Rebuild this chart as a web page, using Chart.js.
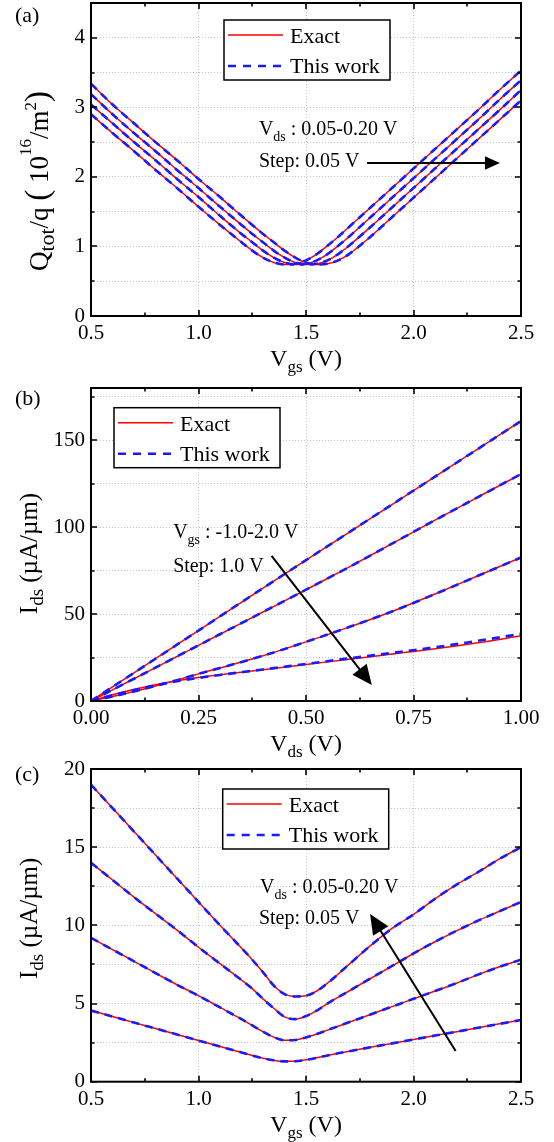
<!DOCTYPE html>
<html>
<head>
<meta charset="utf-8">
<script src="https://cdn.jsdelivr.net/npm/chart.js@4/dist/chart.umd.min.js"></script>
<style>
  html, body { margin: 0; padding: 0; background: #fff; }
  body { width: 554px; height: 1142px; position: relative; overflow: hidden; }
  .panel { position: absolute; left: 0; width: 554px; }
</style>
</head>
<body>
<div class="panel" style="top:0;height:380px"><canvas id="panelA"></canvas></div>
<div class="panel" style="top:380px;height:380px"><canvas id="panelB"></canvas></div>
<div class="panel" style="top:760px;height:382px"><canvas id="panelC"></canvas></div>
<script>
// ---------- (a) total charge vs gate voltage, Vds = 0.05 ... 0.20 V ----------
const vgsQ = [0.5,0.6,0.7,0.8,0.9,1.0,1.1,1.2,1.25,1.3,1.35,1.4,1.45,1.5,1.55,1.6,1.65,1.7,1.8,1.9,2.0,2.1,2.2,2.3,2.4,2.5];
const qVds005 = [2.90,2.63,2.37,2.10,1.84,1.57,1.31,1.06,0.94,0.84,0.77,0.74,0.75,0.80,0.89,1.01,1.14,1.28,1.56,1.84,2.12,2.40,2.68,2.96,3.25,3.53];
const qVds010 = [3.04,2.77,2.50,2.24,1.97,1.71,1.44,1.18,1.06,0.94,0.84,0.77,0.74,0.75,0.80,0.89,1.01,1.14,1.42,1.70,1.98,2.26,2.54,2.82,3.11,3.39];
const qVds015 = [3.19,2.90,2.63,2.37,2.10,1.84,1.57,1.31,1.18,1.06,0.94,0.84,0.77,0.74,0.75,0.80,0.89,1.01,1.28,1.56,1.84,2.12,2.40,2.68,2.96,3.25];
const qVds020 = [3.34,3.04,2.77,2.50,2.24,1.97,1.71,1.44,1.31,1.18,1.06,0.94,0.84,0.77,0.74,0.75,0.80,0.89,1.14,1.42,1.70,1.98,2.26,2.54,2.82,3.10];
const xTicksA = ['0.5','1.0','1.5','2.0','2.5'];
const yTicksA = ['0','1','2','3','4'];

// ---------- (b) drain current vs drain voltage, Vgs = -1 ... 2 V ----------
const vds = [0,0.05,0.1,0.15,0.2,0.25,0.3,0.4,0.5,0.6,0.7,0.8,0.9,1.0];
const idsVgsM1 = [0,8.1,16.2,24.3,32.4,40.5,48.7,64.9,81,97,113,129,145,161];
const idsVgs0  = [0,6.4,12.8,19.2,25.6,32,38.4,51.2,64,77,90.5,104,117.3,130.5];
const idsVgs1  = [0,2.6,5.5,8.6,12,15.6,19,26,34,42.5,51.5,61.5,72,82.5];
const idsVgs2  = [0,3.6,6.6,9.3,11.6,13.5,15.1,18,21,24,27,30,33.5,37.5];
const idsVgs2Model = [0,3.4,6.3,9.0,11.4,13.3,15.0,18.1,21.3,24.5,27.6,30.9,34.6,38.6];
const xTicksB = ['0.00','0.25','0.50','0.75','1.00'];
const yTicksB = ['0','50','100','150'];

// ---------- (c) drain current vs gate voltage, Vds = 0.05 ... 0.20 V ----------
const vgsI = [0.5,0.6,0.7,0.8,0.9,1.0,1.1,1.2,1.25,1.3,1.35,1.4,1.45,1.5,1.55,1.6,1.7,1.8,1.9,2.0,2.1,2.2,2.3,2.4,2.5];
const idsVds005 = [4.55,4.17,3.78,3.40,3.02,2.63,2.25,1.87,1.67,1.50,1.37,1.30,1.31,1.40,1.53,1.68,1.95,2.20,2.45,2.70,2.95,3.20,3.45,3.70,3.95];
const idsVds010 = [9.20,8.45,7.70,6.95,6.20,5.50,4.75,4.00,3.60,3.20,2.85,2.65,2.67,2.83,3.05,3.30,3.80,4.30,4.80,5.30,5.80,6.30,6.85,7.35,7.80];
const idsVds015 = [14.0,12.9,11.8,10.75,9.70,8.60,7.55,6.50,5.95,5.30,4.70,4.15,4.00,4.20,4.55,5.00,5.80,6.60,7.40,8.20,8.95,9.65,10.3,10.9,11.5];
const idsVds020 = [19.0,17.5,16.0,14.5,13.0,11.5,10.0,8.55,7.80,7.00,6.15,5.60,5.45,5.50,5.80,6.30,7.50,8.70,9.80,10.7,11.7,12.6,13.4,14.25,15.0];
const xTicksC = ['0.5','1.0','1.5','2.0','2.5'];
const yTicksC = ['0','5','10','15','20'];

const RED = '#ff0000';
const BLUE = '#1a1aff';
const SERIF = '"Liberation Serif", "Times New Roman", serif';
const font = s => s + 'px ' + SERIF;

const pts = (xs, ys) => xs.map((v, i) => ({ x: v, y: ys[i] }));
const exact = (xs, ys) => ({ data: pts(xs, ys), borderColor: RED, borderWidth: 1.5, order: 2 });
const model = (xs, ys) => ({ data: pts(xs, ys), borderColor: BLUE, borderWidth: 2.6, borderDash: [8, 6], order: 1 });

function labelFrom(list) {
  return v => {
    const m = list.find(s => Math.abs(parseFloat(s) - v) < 1e-6);
    return m === undefined ? '' : m;
  };
}

// text runs with sub/superscripts: [{t, s, dy}]
function runWidth(ctx, runs) {
  let w = 0;
  runs.forEach(r => { ctx.font = font(r.s); w += ctx.measureText(r.t).width; });
  return w;
}
function drawRuns(ctx, runs, x, y) {
  runs.forEach(r => {
    ctx.font = font(r.s);
    ctx.fillText(r.t, x, y + (r.dy || 0));
    x += ctx.measureText(r.t).width;
  });
}

const decor = {
  id: 'decor',
  afterDraw(chart, args, o) {
    const { ctx, chartArea: a, scales: { x, y } } = chart;
    ctx.save();
    ctx.textAlign = 'left';
    ctx.textBaseline = 'alphabetic';

    // inward ticks on all four sides
    ctx.strokeStyle = '#000';
    ctx.lineWidth = 1.6;
    ctx.beginPath();
    x.ticks.forEach(t => {
      const p = Math.round(x.getPixelForValue(t.value));
      const L = t.label ? 6 : 3.5;
      ctx.moveTo(p, a.bottom); ctx.lineTo(p, a.bottom - L);
      ctx.moveTo(p, a.top); ctx.lineTo(p, a.top + L);
    });
    y.ticks.forEach(t => {
      const p = Math.round(y.getPixelForValue(t.value));
      const L = t.label ? 6 : 3.5;
      ctx.moveTo(a.left, p); ctx.lineTo(a.left + L, p);
      ctx.moveTo(a.right, p); ctx.lineTo(a.right - L, p);
    });
    ctx.stroke();
    ctx.lineWidth = 2;
    ctx.strokeRect(a.left, a.top, a.right - a.left, a.bottom - a.top);

    ctx.fillStyle = '#000';

    // notes
    o.notes.forEach(n => {
      drawRuns(ctx, n.runs, x.getPixelForValue(n.x), y.getPixelForValue(n.y));
    });

    // arrow
    const ar = o.arrow;
    const x0 = x.getPixelForValue(ar.x0), y0 = y.getPixelForValue(ar.y0);
    const x1 = x.getPixelForValue(ar.x1), y1 = y.getPixelForValue(ar.y1);
    const ang = Math.atan2(y1 - y0, x1 - x0);
    const hl = ar.head, hw = ar.head * 0.45;
    ctx.lineWidth = 2;
    ctx.beginPath();
    ctx.moveTo(x0, y0);
    ctx.lineTo(x1 - Math.cos(ang) * hl * 0.8, y1 - Math.sin(ang) * hl * 0.8);
    ctx.stroke();
    ctx.beginPath();
    ctx.moveTo(x1, y1);
    ctx.lineTo(x1 - Math.cos(ang) * hl - Math.sin(ang) * hw, y1 - Math.sin(ang) * hl + Math.cos(ang) * hw);
    ctx.lineTo(x1 - Math.cos(ang) * hl + Math.sin(ang) * hw, y1 - Math.sin(ang) * hl - Math.cos(ang) * hw);
    ctx.closePath();
    ctx.fill();

    // legend box
    const L = a.left + o.legend.dx, T = a.top + o.legend.dy, W = 166, H = 60;
    ctx.fillStyle = '#fff';
    ctx.fillRect(L, T, W, H);
    ctx.strokeStyle = '#000';
    ctx.lineWidth = 1.5;
    ctx.strokeRect(L, T, W, H);
    ctx.strokeStyle = RED;
    ctx.lineWidth = 1.6;
    ctx.beginPath(); ctx.moveTo(L + 4, T + 15); ctx.lineTo(L + 59, T + 15); ctx.stroke();
    ctx.strokeStyle = BLUE;
    ctx.lineWidth = 2.6;
    ctx.setLineDash([8, 7]);
    ctx.beginPath(); ctx.moveTo(L + 4, T + 46); ctx.lineTo(L + 59, T + 46); ctx.stroke();
    ctx.setLineDash([]);
    ctx.fillStyle = '#000';
    ctx.font = font(22);
    ctx.fillText('Exact', L + 66, T + 23);
    ctx.fillText('This work', L + 66, T + 53);

    // axis titles
    const cx = (a.left + a.right) / 2;
    const xw = runWidth(ctx, o.xTitle);
    drawRuns(ctx, o.xTitle, cx - xw / 2, a.bottom + 50);

    const yw = runWidth(ctx, o.yTitle.runs);
    ctx.save();
    ctx.translate(o.yTitle.base, (a.top + a.bottom) / 2 + o.yTitle.shift);
    ctx.rotate(-Math.PI / 2);
    drawRuns(ctx, o.yTitle.runs, -yw / 2, 0);
    ctx.restore();

    // panel tag
    ctx.font = font(22);
    ctx.fillText(o.tag.text, 15, o.tag.y);
    ctx.restore();
  }
};

function buildPanel(id, p) {
  const grid = majorOnly => ({
    drawTicks: false,
    lineWidth: 1,
    color: c => (!majorOnly || (c.tick && c.tick.label)) ? '#c4c4c4' : 'rgba(0,0,0,0)'
  });
  return new Chart(document.getElementById(id), {
    type: 'line',
    data: { datasets: p.datasets },
    plugins: [decor],
    options: {
      responsive: true,
      maintainAspectRatio: false,
      animation: false,
      devicePixelRatio: 1,
      layout: { padding: { top: p.top, right: 33, left: 0, bottom: 0 } },
      elements: { point: { radius: 0 }, line: { cubicInterpolationMode: 'monotone', fill: false } },
      plugins: { legend: { display: false }, tooltip: { enabled: false }, decor: p.decor },
      scales: {
        x: {
          type: 'linear', min: p.x.min, max: p.x.max,
          grid: grid(true),
          border: { display: false, dash: [1, 2] },
          ticks: {
            stepSize: p.x.step, autoSkip: false, maxRotation: 0, includeBounds: false,
            padding: 5, color: '#000', font: { family: SERIF, size: 21 },
            callback: labelFrom(p.x.labels)
          },
          afterFit: s => { s.height = p.axisH; s.paddingLeft = 0; s.paddingRight = 0; }
        },
        y: {
          type: 'linear', min: p.y.min, max: p.y.max,
          grid: grid(false),
          border: { display: false, dash: [1, 2] },
          ticks: {
            stepSize: p.y.step, autoSkip: false, includeBounds: false,
            padding: 6, color: '#000', font: { family: SERIF, size: 21 },
            callback: labelFrom(p.y.labels)
          },
          afterFit: s => { s.width = 91; s.paddingTop = 0; s.paddingBottom = 0; }
        }
      }
    }
  });
}

const vdsNote = [{ t: 'V', s: 20 }, { t: 'ds', s: 14, dy: 6 }, { t: ' : 0.05-0.20 V', s: 20 }];

buildPanel('panelA', {
  top: 3, axisH: 64,
  x: { min: 0.5, max: 2.5, step: 0.25, labels: xTicksA },
  y: { min: 0, max: 4.5, step: 0.5, labels: yTicksA },
  datasets: [
    model(vgsQ, qVds005), model(vgsQ, qVds010), model(vgsQ, qVds015), model(vgsQ, qVds020),
    exact(vgsQ, qVds005), exact(vgsQ, qVds010), exact(vgsQ, qVds015), exact(vgsQ, qVds020)
  ],
  decor: {
    legend: { dx: 133, dy: 17 },
    notes: [
      { x: 1.281, y: 2.597, runs: vdsNote },
      { x: 1.281, y: 2.138, runs: [{ t: 'Step: 0.05 V', s: 20 }] }
    ],
    arrow: { x0: 1.784, y0: 2.2, x1: 2.402, y1: 2.2, head: 15 },
    xTitle: [{ t: 'V', s: 24 }, { t: 'gs', s: 17, dy: 6 }, { t: ' (V)', s: 24 }],
    yTitle: {
      base: 48, shift: 21.5,
      runs: [
        { t: 'Q', s: 27 }, { t: 'tot', s: 22, dy: 6 }, { t: '/q', s: 27 }, { t: ' ', s: 27 }, { t: '(', s: 33 },
        { t: ' 10', s: 27 }, { t: '16', s: 17, dy: -17 }, { t: '/m', s: 27 }, { t: '2', s: 17, dy: -12 },
        { t: ')', s: 33 }
      ]
    },
    tag: { text: '(a)', y: 22 }
  }
});

buildPanel('panelB', {
  top: 8, axisH: 59,
  x: { min: 0, max: 1, step: 0.125, labels: xTicksB },
  y: { min: 0, max: 180, step: 25, labels: yTicksB },
  datasets: [
    model(vds, idsVgsM1), model(vds, idsVgs0), model(vds, idsVgs1), model(vds, idsVgs2Model),
    exact(vds, idsVgsM1), exact(vds, idsVgs0), exact(vds, idsVgs1), exact(vds, idsVgs2)
  ],
  decor: {
    legend: { dx: 23, dy: 19.7 },
    notes: [
      { x: 0.191, y: 93.7, runs: [{ t: 'V', s: 20 }, { t: 'gs', s: 14, dy: 6 }, { t: ' : -1.0-2.0 V', s: 20 }] },
      { x: 0.191, y: 74.4, runs: [{ t: 'Step: 1.0 V', s: 20 }] }
    ],
    arrow: { x0: 0.420, y0: 83.4, x1: 0.653, y1: 9.2, head: 20 },
    xTitle: [{ t: 'V', s: 24 }, { t: 'ds', s: 17, dy: 6 }, { t: ' (V)', s: 24 }],
    yTitle: {
      base: 37, shift: 9,
      runs: [{ t: 'I', s: 25 }, { t: 'ds', s: 19, dy: 6 }, { t: ' (\u00b5A/\u00b5m)', s: 25 }]
    },
    tag: { text: '(b)', y: 25 }
  }
});

buildPanel('panelC', {
  top: 9, axisH: 60.3,
  x: { min: 0.5, max: 2.5, step: 0.25, labels: xTicksC },
  y: { min: 0, max: 20, step: 2.5, labels: yTicksC },
  datasets: [
    model(vgsI, idsVds005), model(vgsI, idsVds010), model(vgsI, idsVds015), model(vgsI, idsVds020),
    exact(vgsI, idsVds005), exact(vgsI, idsVds010), exact(vgsI, idsVds015), exact(vgsI, idsVds020)
  ],
  decor: {
    legend: { dx: 131.7, dy: 20 },
    notes: [
      { x: 1.286, y: 12.07, runs: vdsNote },
      { x: 1.281, y: 10.09, runs: [{ t: 'Step: 0.05 V', s: 20 }] }
    ],
    arrow: { x0: 2.196, y0: 1.96, x1: 1.798, y1: 10.73, head: 20 },
    xTitle: [{ t: 'V', s: 24 }, { t: 'gs', s: 17, dy: 6 }, { t: ' (V)', s: 24 }],
    yTitle: {
      base: 37, shift: -7,
      runs: [{ t: 'I', s: 25 }, { t: 'ds', s: 19, dy: 6 }, { t: ' (\u00b5A/\u00b5m)', s: 25 }]
    },
    tag: { text: '(c)', y: 21 }
  }
});
</script>
</body>
</html>
